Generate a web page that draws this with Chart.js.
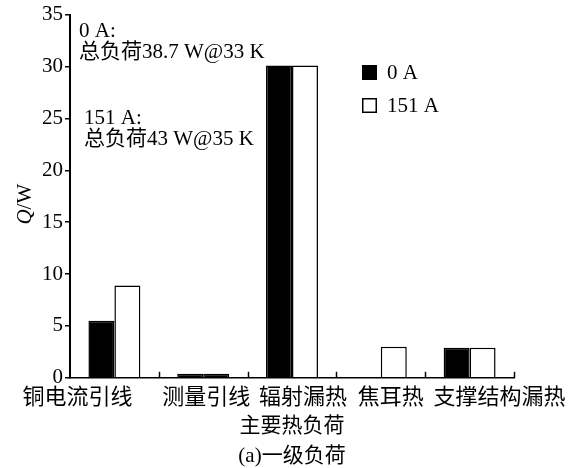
<!DOCTYPE html>
<html>
<head>
<meta charset="utf-8">
<script src="https://cdn.jsdelivr.net/npm/chart.js@4.4.0/dist/chart.umd.min.js"></script>
<style>
  html, body { margin: 0; padding: 0; background: #fff; }
  #wrap { width: 576px; height: 468px; }
</style>
</head>
<body>
<div id="wrap"><canvas id="load-chart"></canvas></div>
<script>
"use strict";

// data
const categories = ["铜电流引线", "测量引线", "辐射漏热", "焦耳热", "支撑结构漏热"];
const seriesNames = ["0 A", "151 A"];
const load0A = [5.5, 0.4, 30.1, 0, 2.9];
const load151A = [8.9, 0.4, 30.1, 3.0, 2.9];
const yTicks = [0, 5, 10, 15, 20, 25, 30, 35];
const notes0A = ["0 A:", "总负荷38.7 W@33 K"];
const notes151A = ["151 A:", "总负荷43 W@35 K"];
const xTitle = "主要热负荷";
const figTitle = "(a)一级负荷";

// looks
const serif = '"Liberation Serif", "Noto Sans CJK SC", serif';
const fill151A = ["#fff", "#000", "#fff", "#fff", "#fff"];
const labelShift = [-37, 3, 11, 10, 30];

const extras = {
  id: "extras",
  afterDraw(chart) {
    const { ctx, chartArea, scales } = chart;
    const x = scales.x;
    ctx.save();
    ctx.strokeStyle = "#000";
    ctx.fillStyle = "#000";
    ctx.lineWidth = 1.5;

    // small upward ticks between categories
    for (let i = 0; i < categories.length; i++) {
      const px = Math.round(x.getPixelForValue(i + 0.5)) + 0.5;
      ctx.beginPath();
      ctx.moveTo(px, chartArea.bottom);
      ctx.lineTo(px, chartArea.bottom - 6);
      ctx.stroke();
    }

    // category labels (laid out as one spaced line in the original)
    ctx.font = `22px ${serif}`;
    ctx.textAlign = "center";
    ctx.textBaseline = "middle";
    categories.forEach((c, i) => {
      ctx.fillText(c, x.getPixelForValue(i) + labelShift[i], chartArea.bottom + 20);
    });

    // figure caption under the axis title
    ctx.font = `21px ${serif}`;
    ctx.fillText(figTitle, (chartArea.left + chartArea.right) / 2, 456);

    // y title: italic Q, upright /W
    const midY = (chartArea.top + chartArea.bottom) / 2 + 8;
    ctx.translate(25, midY);
    ctx.rotate(-Math.PI / 2);
    ctx.textAlign = "left";
    ctx.font = `italic 21px ${serif}`;
    const wq = ctx.measureText("Q").width;
    ctx.font = `21px ${serif}`;
    const ww = ctx.measureText("/W").width;
    const start = -(wq + ww) / 2;
    ctx.font = `italic 21px ${serif}`;
    ctx.fillText("Q", start, 0);
    ctx.font = `21px ${serif}`;
    ctx.fillText("/W", start + wq, 0);
    ctx.setTransform(1, 0, 0, 1, 0, 0);

    // notes
    ctx.textAlign = "left";
    ctx.font = `21px ${serif}`;
    ctx.fillText(notes0A[0], 79, 31);
    ctx.fillText(notes0A[1], 79, 52);
    ctx.fillText(notes151A[0], 84, 118);
    ctx.fillText(notes151A[1], 84, 139);

    // legend
    chart.data.datasets.forEach((ds, i) => {
      const top = 65 + i * 33;
      ctx.fillStyle = i === 0 ? "#000" : "#fff";
      ctx.fillRect(362, top, 15, 15);
      ctx.strokeRect(362.75, top + 0.75, 13.5, 13.5);
      ctx.fillStyle = "#000";
      ctx.fillText(ds.label, 387, top + 8);
    });
    ctx.restore();
  }
};

const ctx = document.querySelector("#load-chart").getContext("2d");
const configuration = {
  type: "bar",
  data: {
    labels: categories,
    datasets: [
      {
        label: seriesNames[0],
        data: load0A,
        backgroundColor: "#000",
        borderColor: "#000",
        borderWidth: 1.5,
      },
      {
        label: seriesNames[1],
        data: load151A,
        backgroundColor: fill151A,
        borderColor: "#000",
        borderWidth: 1.5,
      },
    ],
  },
  options: {
    responsive: true,
    maintainAspectRatio: false,
    animation: false,
    categoryPercentage: 0.585,
    barPercentage: 1.0,
    layout: {
      padding: { top: 3, right: 62, bottom: 29, left: 0 },
    },
    plugins: {
      legend: { display: false },
      tooltip: { enabled: false },
      title: { display: false },
    },
    scales: {
      x: {
        offset: true,
        grid: { display: false },
        border: { display: true, color: "#000", width: 1.5 },
        ticks: { display: false },
        title: {
          display: true,
          text: xTitle,
          color: "#000",
          font: { family: serif, size: 21 },
          padding: { top: 28, bottom: 0 },
        },
      },
      y: {
        min: 0,
        max: 35,
        afterBuildTicks: (scale) => {
          scale.ticks = yTicks.map((v) => ({ value: v }));
        },
        afterFit: (scale) => {
          scale.width = 70;
        },
        grid: {
          drawOnChartArea: false,
          drawTicks: true,
          tickLength: 5,
          color: "#000",
          lineWidth: 1.5,
        },
        border: { display: true, color: "#000", width: 2 },
        ticks: {
          color: "#000",
          padding: 2,
          font: { family: serif, size: 21 },
        },
      },
    },
  },
  plugins: [extras],
};
const loadChart = new Chart(ctx, configuration);
</script>
</body>
</html>
